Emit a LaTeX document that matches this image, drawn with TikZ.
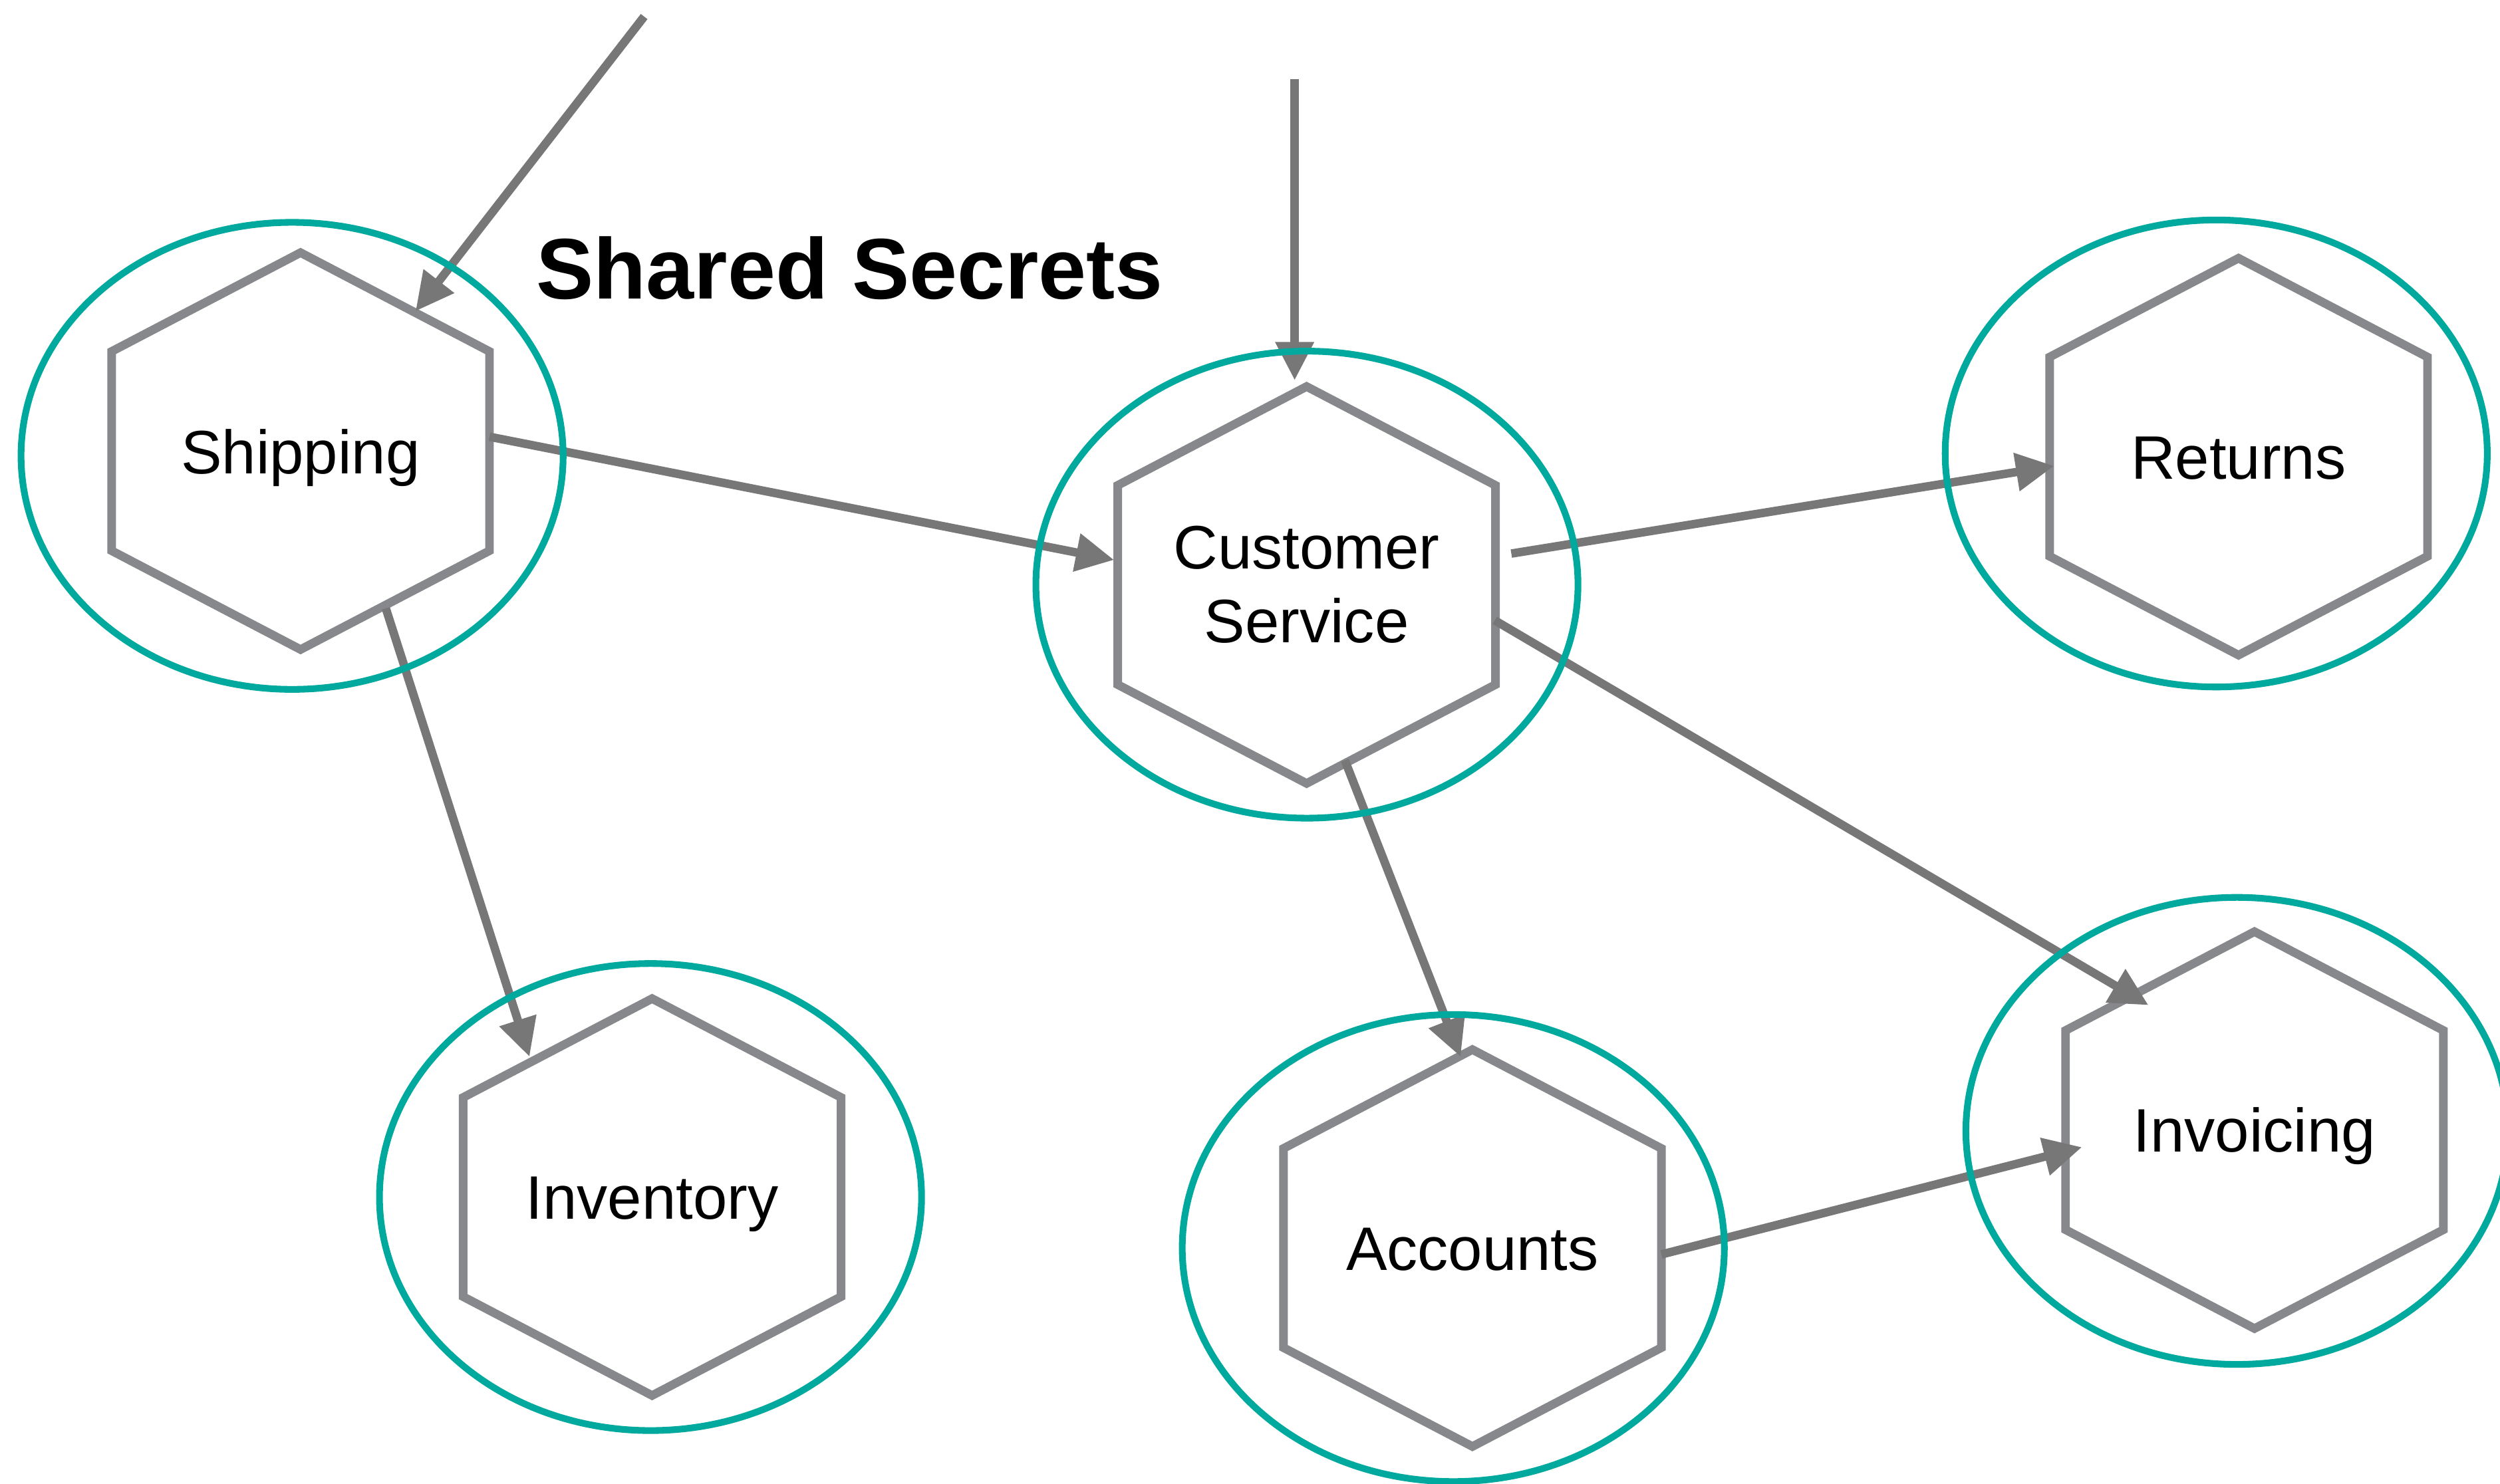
\documentclass[tikz,border=0pt]{standalone}
\usepackage{fontspec}
\setmainfont{Liberation Sans}
\usetikzlibrary{arrows.meta}
\definecolor{hexgray}{HTML}{86888C}
\definecolor{arrgray}{HTML}{777777}
\definecolor{chalk}{HTML}{00A99D}
\tikzset{
  hexline/.style={draw=hexgray, line width=2.7pt, fill=white, line join=miter},
  conn/.style={draw=arrgray, line width=2.65pt, -{Triangle[length=12pt,width=11.5pt]}},
  boundary/.style={draw=chalk, line width=2.1pt},
  lbl/.style={anchor=base, font=\fontsize{19.25pt}{23pt}\selectfont, inner sep=0pt, text=black},
  ttl/.style={anchor=base, font=\bfseries\fontsize{27pt}{32pt}\selectfont, inner sep=0pt, text=black},
}
\newcommand\hexagonat[1]{\path[hexline] (#1) +(0,-124.5) -- +(118.5,-62.5) -- +(118.5,62.5) -- +(0,124.5) -- +(-118.5,62.5) -- +(-118.5,-62.5) -- cycle;}
\begin{document}
\begin{tikzpicture}[x=0.5pt,y=-0.5pt]
\useasboundingbox[fill=white] (0,0) rectangle (1568,931);

% hexagon centres
\coordinate (shipc) at (188.5,283);
\coordinate (csc) at (819.5,367);
\coordinate (retc) at (1404,286.5);
\coordinate (invc) at (1414,709);
\coordinate (accc) at (923.5,783);
\coordinate (stoc) at (409,751);

\hexagonat{shipc}
\hexagonat{csc}
\hexagonat{retc}
\hexagonat{invc}
\hexagonat{accc}
\hexagonat{stoc}

% labels
\node[lbl] (ship) at (188.5,297) {Shipping};
\node[lbl, align=center] (cs) at (819.5,403) {Customer\\Service};
\node[lbl] (ret) at (1404,300.5) {Returns};
\node[lbl] (inv) at (1414,722.5) {Invoicing};
\node[lbl] (acc) at (923.5,797) {Accounts};
\node[lbl] (sto) at (409,765) {Inventory};
\node[ttl] (title) at (533,187.7) {Shared Secrets};

% connector end points
\coordinate (inA) at (404,10.4);
\coordinate (shipIn) at (260.6,195.3);
\coordinate (inB) at (812,49.6);
\coordinate (csIn) at (812,238.6);
\coordinate (shipOutR) at (307,274);
\coordinate (csInL) at (698.8,351.3);
\coordinate (shipOutB) at (242,381.7);
\coordinate (stoIn) at (332.1,663);
\coordinate (csOutR) at (947.9,347.3);
\coordinate (retIn) at (1288.4,292.3);
\coordinate (csOutR2) at (937.5,389.2);
\coordinate (invInT) at (1347.5,630.6);
\coordinate (csOutB) at (843.5,477);
\coordinate (accIn) at (916.1,663);
\coordinate (accOut) at (1042,787);
\coordinate (invInL) at (1305.8,719.7);

\draw[conn] (inA) -- (shipIn);
\draw[conn] (inB) -- (csIn);
\draw[conn] (shipOutR) -- (csInL);
\draw[conn] (shipOutB) -- (stoIn);
\draw[conn] (csOutR) -- (retIn);
\draw[conn] (csOutR2) -- (invInT);
\draw[conn] (csOutB) -- (accIn);
\draw[conn] (accOut) -- (invInL);

% boundaries
\draw[boundary] (183.2,286) ellipse [x radius=170, y radius=146.5];
\draw[boundary] (819.7,366.8) ellipse [x radius=170, y radius=146.5];
\draw[boundary] (1390,284.5) ellipse [x radius=170, y radius=146.5];
\draw[boundary] (1403,709.5) ellipse [x radius=170, y radius=146.5];
\draw[boundary] (911.5,783) ellipse [x radius=170, y radius=146.5];
\draw[boundary] (408,751) ellipse [x radius=170, y radius=146.5];
\end{tikzpicture}
\end{document}
